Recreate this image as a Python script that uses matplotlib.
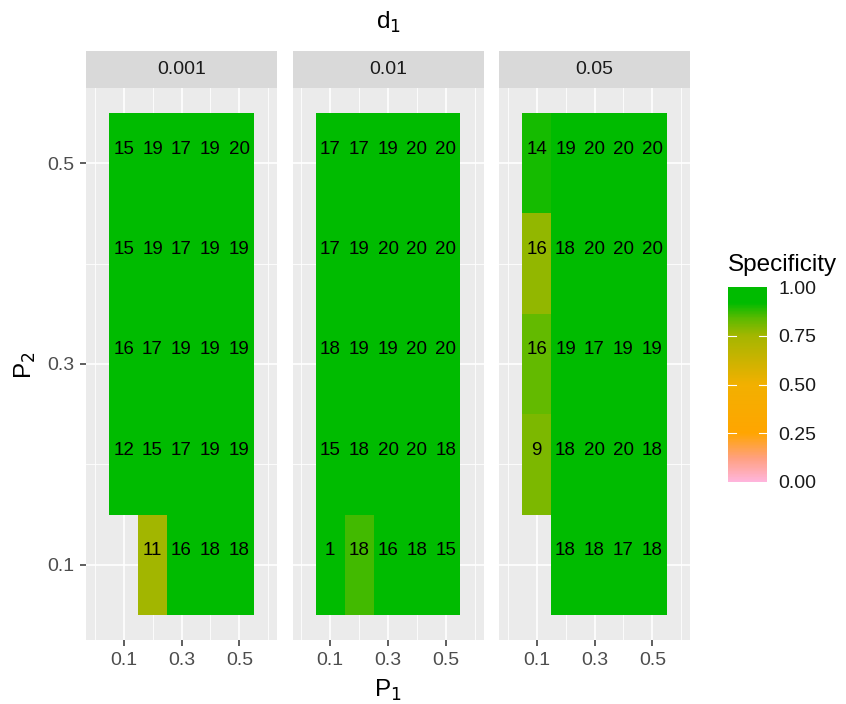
import numpy as np
import matplotlib
matplotlib.use('Agg')
import matplotlib.pyplot as plt
from matplotlib.colors import LinearSegmentedColormap

plt.rcParams['font.family'] = ['Liberation Sans', 'DejaVu Sans']

# facet values of d1, grid values of P1 and P2
d1 = ['0.001', '0.01', '0.05']
p1 = [0.1, 0.2, 0.3, 0.4, 0.5]
p2 = [0.1, 0.2, 0.3, 0.4, 0.5]

# counts shown in tiles, rows = P2 (0.1 .. 0.5), cols = P1 (0.1 .. 0.5)
n = np.nan
counts_001 = [[n, 11, 16, 18, 18],
              [12, 15, 17, 19, 19],
              [16, 17, 19, 19, 19],
              [15, 19, 17, 19, 19],
              [15, 19, 17, 19, 20]]
counts_01 = [[1, 18, 16, 18, 15],
             [15, 18, 20, 20, 18],
             [18, 19, 19, 20, 20],
             [17, 19, 20, 20, 20],
             [17, 17, 19, 20, 20]]
counts_05 = [[n, 18, 18, 17, 18],
             [9, 18, 20, 20, 18],
             [16, 19, 17, 19, 19],
             [16, 18, 20, 20, 20],
             [14, 19, 20, 20, 20]]

# specificity (fill), estimated from colours
spec_001 = [[n, 0.75, 1, 1, 1],
            [1, 1, 1, 1, 1],
            [1, 1, 1, 1, 1],
            [1, 1, 1, 1, 1],
            [1, 1, 1, 1, 1]]
spec_01 = [[1, 0.86, 1, 1, 1],
           [1, 1, 1, 1, 1],
           [1, 1, 1, 1, 1],
           [1, 1, 1, 1, 1],
           [1, 1, 1, 1, 1]]
spec_05 = [[n, 1, 1, 1, 1],
           [0.80, 1, 1, 1, 1],
           [0.83, 1, 1, 1, 1],
           [0.77, 1, 1, 1, 1],
           [0.90, 1, 1, 1, 1]]

counts = [counts_001, counts_01, counts_05]
specs = [spec_001, spec_01, spec_05]

cmap = LinearSegmentedColormap.from_list('spec', [
    (0.0, '#FFB5DC'), (0.12, '#FFA080'), (0.25, '#FFA500'),
    (0.5, '#F2B000'), (0.75, '#A4B600'), (0.84, '#5CBA00'),
    (0.92, '#00BB00'), (1.0, '#00BB00')])

W, H = 846, 704
fig = plt.figure(figsize=(W / 100, H / 100), dpi=100)

lefts = [86, 292.5, 499]
pw = 191
ptop, pbot = 88, 640
xe = np.arange(0.05, 0.56, 0.1)
ye = np.arange(0.05, 0.56, 0.1)

for k in range(3):
    ax = fig.add_axes([lefts[k] / W, (H - pbot) / H, pw / W, (pbot - ptop) / H])
    ax.set_facecolor('#EBEBEB')
    ax.set_xlim(-0.03, 0.63)
    ax.set_ylim(0.025, 0.575)
    ax.set_xticks([0.1, 0.3, 0.5])
    ax.set_xticks([0.0, 0.2, 0.4, 0.6], minor=True)
    ax.set_yticks([0.1, 0.3, 0.5])
    ax.set_yticks([0.2, 0.4], minor=True)
    ax.grid(which='major', color='white', lw=1.2)
    ax.grid(which='minor', color='white', lw=0.6)
    ax.set_axisbelow(True)
    for s in ax.spines.values():
        s.set_visible(False)
    ax.tick_params(which='major', colors='#333333', labelcolor='#4D4D4D',
                   labelsize=14, length=4.5, width=1.1, pad=4)
    ax.tick_params(which='minor', length=0)
    if k > 0:
        ax.tick_params(axis='y', which='both', left=False, labelleft=False)
    vals = np.ma.masked_invalid(np.array(specs[k], dtype=float))
    ax.pcolormesh(xe, ye, vals, cmap=cmap, vmin=0, vmax=1)
    c = counts[k]
    for i, yv in enumerate(p2):
        for j, xv in enumerate(p1):
            if not np.isnan(c[i][j]):
                ax.text(xv, yv + 0.014, '%d' % c[i][j], ha='center', va='center',
                        fontsize=13.5, color='black')
    # strip
    sax = fig.add_axes([lefts[k] / W, (H - 88) / H, pw / W, 37 / H])
    sax.set_facecolor('#D9D9D9')
    sax.set_xticks([])
    sax.set_yticks([])
    for s in sax.spines.values():
        s.set_visible(False)
    sax.text(0.5, 0.5, d1[k], ha='center', va='center', fontsize=14,
             color='#1A1A1A', transform=sax.transAxes)

fig.text(388 / W, 1 - 22 / H, r'd$_1$', ha='center', va='center', fontsize=17.5)
fig.text(388 / W, 1 - 690 / H, r'P$_1$', ha='center', va='center', fontsize=17.5)
fig.text(25 / W, 1 - 365 / H, r'P$_2$', ha='center', va='center', fontsize=17.5,
         rotation=90)

# colour bar legend
cax = fig.add_axes([728 / W, (H - 482) / H, 39 / W, 195 / H])
sm = matplotlib.cm.ScalarMappable(cmap=cmap, norm=plt.Normalize(0, 1))
cb = fig.colorbar(sm, cax=cax, ticks=[0, 0.25, 0.5, 0.75, 1.0])
cb.outline.set_visible(False)
cb.ax.set_yticklabels(['0.00', '0.25', '0.50', '0.75', '1.00'])
cb.ax.tick_params(length=0, labelsize=14, labelcolor='#1A1A1A', pad=8)
for t in [0.25, 0.5, 0.75]:
    cax.plot([0, 0.2], [t, t], color='white', lw=0.8, transform=cax.transAxes)
    cax.plot([0.8, 1], [t, t], color='white', lw=0.8, transform=cax.transAxes)
fig.text(728 / W, 1 - 265 / H, 'Specificity', ha='left', va='center', fontsize=17.5)

fig.savefig('out.png', dpi=100)
